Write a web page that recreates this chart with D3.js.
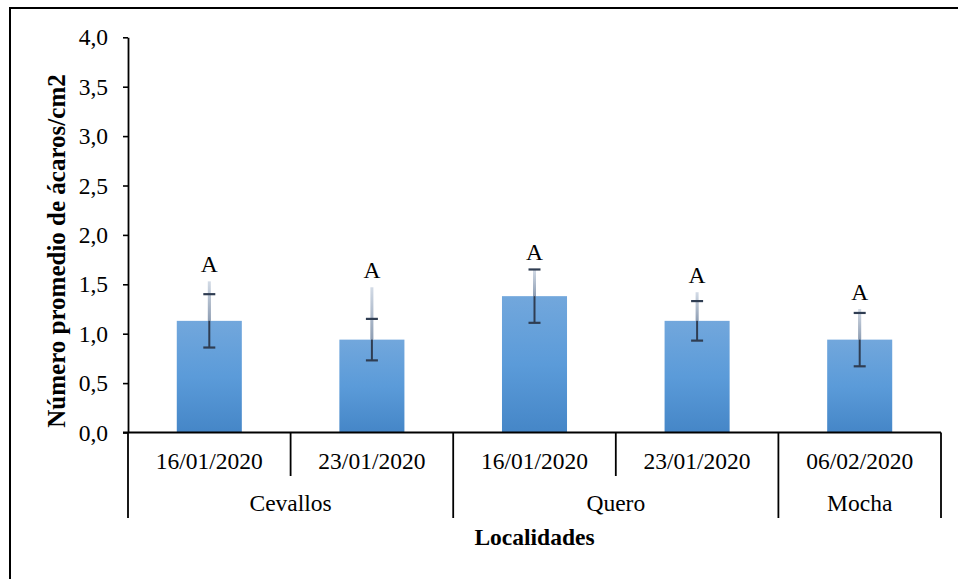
<!DOCTYPE html>
<html>
<head>
<meta charset="utf-8">
<script src="https://cdn.jsdelivr.net/npm/d3@7/dist/d3.min.js"></script>
<style>
  html, body { margin: 0; padding: 0; background: #fff; }
  svg text { font-family: "Liberation Serif", "Times New Roman", serif; fill: #000; }
</style>
</head>
<body>
<svg id="chart" width="958" height="579"></svg>
<script>
// Sampling dates and the locality each one belongs to
const dates = ["16/01/2020", "23/01/2020", "16/01/2020", "23/01/2020", "06/02/2020"];
const localities = ["Cevallos", "Cevallos", "Quero", "Quero", "Mocha"];
// Mean mites per cm2, standard error, and upper reach of the light whisker
const means = [1.13, 0.94, 1.38, 1.13, 0.94];
const stdErr = [0.27, 0.21, 0.27, 0.20, 0.27];
const upperReach = [0.40, 0.53, 0.27, 0.29, 0.31];
// Significance letters
const letters = ["A", "A", "A", "A", "A"];
// Y tick values
const yTicks = [0, 0.5, 1.0, 1.5, 2.0, 2.5, 3.0, 3.5, 4.0];

const svg = d3.select("#chart");
const plotLeft = 128, plotRight = 941, plotTop = 37.3, plotBottom = 432.5;

const idx = d3.range(dates.length);
const x = d3.scaleBand().domain(idx).range([plotLeft, plotRight]).paddingInner(0.6).paddingOuter(0.3);
const y = d3.scaleLinear().domain([0, 4]).range([plotBottom, plotTop]);
const step = x.step();

// Outer frame
svg.append("rect")
  .attr("x", 10).attr("y", 8).attr("width", 990).attr("height", 620)
  .attr("fill", "none").attr("stroke", "#000").attr("stroke-width", 2);

// Bar fill gradient
const defs = svg.append("defs");
const grad = defs.append("linearGradient").attr("id", "barFill")
  .attr("x1", 0).attr("y1", 0).attr("x2", 0).attr("y2", 1);
grad.append("stop").attr("offset", "0%").attr("stop-color", "#72a7dc");
grad.append("stop").attr("offset", "50%").attr("stop-color", "#5b9bd9");
grad.append("stop").attr("offset", "100%").attr("stop-color", "#4586c7");

const lightGrad = defs.append("linearGradient").attr("id", "whiskerLight")
  .attr("gradientUnits", "objectBoundingBox")
  .attr("x1", 0).attr("y1", 0).attr("x2", 0).attr("y2", 1);
lightGrad.append("stop").attr("offset", "0%").attr("stop-color", "#d3dbe6");
lightGrad.append("stop").attr("offset", "100%").attr("stop-color", "#8e9eb4");

// Bars
svg.append("g").selectAll("rect").data(idx).join("rect")
  .attr("x", i => x(i))
  .attr("y", i => y(means[i]))
  .attr("width", x.bandwidth())
  .attr("height", i => y(0) - y(means[i]))
  .attr("fill", "url(#barFill)");

// Error bars
const eb = svg.append("g");
const cx = i => x(i) + x.bandwidth() / 2;
const capW = 6;
eb.selectAll("line.dark").data(idx).join("line").attr("class", "dark")
  .attr("x1", cx).attr("x2", cx)
  .attr("y1", i => y(means[i] - stdErr[i]))
  .attr("y2", i => y(means[i] + stdErr[i]))
  .attr("stroke", "#2f3d52").attr("stroke-width", 2);
eb.selectAll("rect.light").data(idx).join("rect").attr("class", "light")
  .attr("x", i => cx(i) - 1.5).attr("width", 3)
  .attr("y", i => y(means[i] + upperReach[i]))
  .attr("height", i => y(means[i]) - y(means[i] + upperReach[i]))
  .attr("fill", "url(#whiskerLight)");
["lo", "hi"].forEach(k => {
  eb.selectAll("line.cap-" + k).data(idx).join("line").attr("class", "cap-" + k)
    .attr("x1", i => cx(i) - capW).attr("x2", i => cx(i) + capW)
    .attr("y1", i => y(k === "lo" ? means[i] - stdErr[i] : means[i] + stdErr[i]))
    .attr("y2", i => y(k === "lo" ? means[i] - stdErr[i] : means[i] + stdErr[i]))
    .attr("stroke", "#2f3d52").attr("stroke-width", 2.2);
});

// Letters above each whisker
svg.append("g").selectAll("text").data(idx).join("text")
  .attr("x", cx)
  .attr("y", i => y(means[i] + Math.max(upperReach[i], stdErr[i])) - 9)
  .attr("text-anchor", "middle")
  .attr("font-size", 23.5)
  .text(i => letters[i]);

// Y axis
const yAxis = svg.append("g").attr("transform", `translate(${plotLeft},0)`)
  .call(d3.axisLeft(y).tickValues(yTicks).tickSize(5).tickSizeOuter(0).tickPadding(15)
    .tickFormat(d => d3.format(".1f")(d).replace(".", ",")));
yAxis.select(".domain").attr("stroke", "#000").attr("stroke-width", 1.8);
yAxis.selectAll(".tick line").attr("stroke", "#000").attr("stroke-width", 1.6);
yAxis.selectAll(".tick text").attr("font-size", 23.5)
  .attr("font-family", "'Liberation Serif', 'Times New Roman', serif").attr("fill", "#000");

// X baseline
svg.append("line").attr("x1", plotLeft - 5).attr("x2", plotRight)
  .attr("y1", plotBottom).attr("y2", plotBottom).attr("stroke", "#000").attr("stroke-width", 1.8);

// Category dividers: short between dates, long between localities
const sep = svg.append("g").attr("stroke", "#000").attr("stroke-width", 1.8);
d3.range(dates.length + 1).forEach(b => {
  const xx = b === 0 ? plotLeft : (b === dates.length ? plotRight : x(b) - step * 0.3);
  const isGroupEdge = b === 0 || b === dates.length || localities[b] !== localities[b - 1];
  sep.append("line").attr("x1", xx).attr("x2", xx)
    .attr("y1", plotBottom).attr("y2", isGroupEdge ? 518 : 476);
});

// Date labels
svg.append("g").selectAll("text").data(idx).join("text")
  .attr("x", cx).attr("y", 469)
  .attr("text-anchor", "middle").attr("font-size", 23.5)
  .text(i => dates[i]);

// Locality labels centred under their dates
const groups = [];
localities.forEach((l, i) => {
  const g = groups.find(g => g.name === l);
  if (g) g.last = i; else groups.push({ name: l, first: i, last: i });
});
svg.append("g").selectAll("text").data(groups).join("text")
  .attr("x", g => (x(g.first) - step * 0.3 + x(g.last) + x.bandwidth() + step * 0.3) / 2)
  .attr("y", 511)
  .attr("text-anchor", "middle").attr("font-size", 23.5)
  .text(g => g.name);

// Axis titles
svg.append("text")
  .attr("x", (plotLeft + plotRight) / 2).attr("y", 545)
  .attr("text-anchor", "middle").attr("font-size", 23.5).attr("font-weight", "bold")
  .text("Localidades");
svg.append("text")
  .attr("transform", `translate(65,251) rotate(-90)`)
  .attr("text-anchor", "middle").attr("font-size", 25).attr("font-weight", "bold")
  .text("Número promedio de ácaros/cm2");
</script>
</body>
</html>
